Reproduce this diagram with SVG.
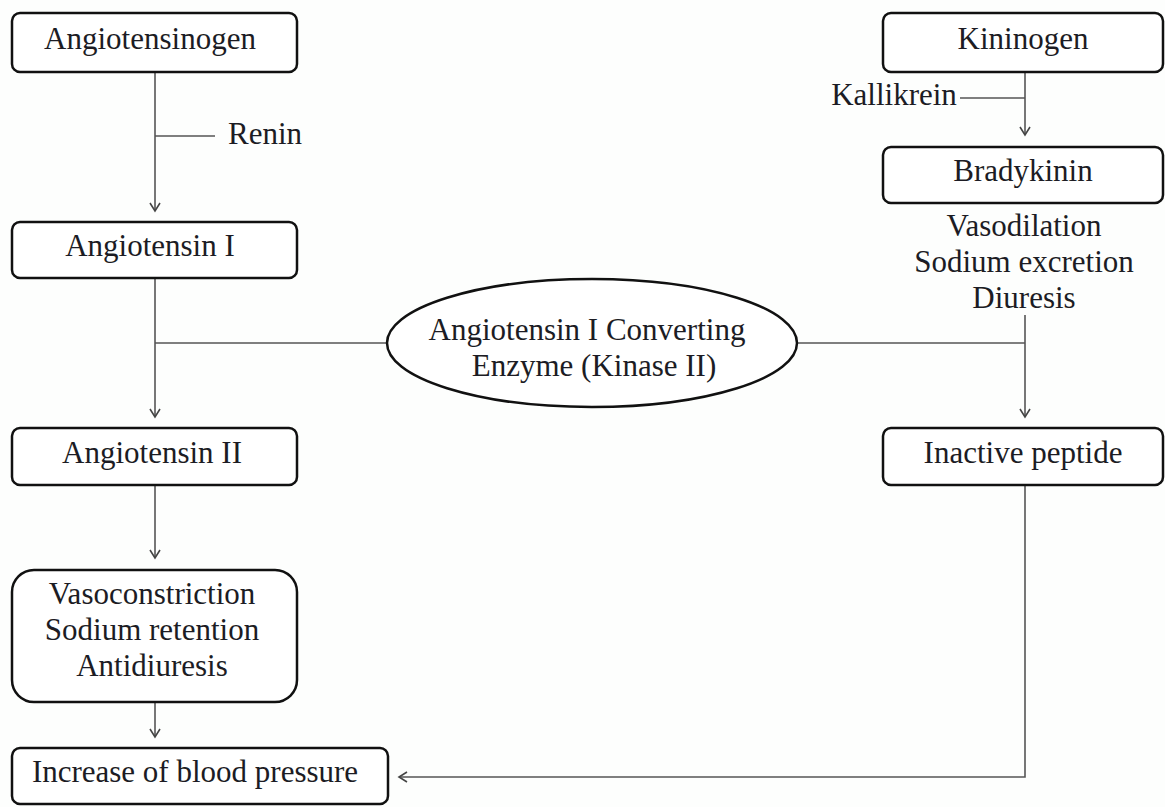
<svg xmlns="http://www.w3.org/2000/svg" width="1165" height="807" viewBox="0 0 1165 807">
<style>
.box{fill:#ffffff;stroke:#111;stroke-width:2.5}
.t{font-family:'Liberation Serif','Tinos','DejaVu Serif','Noto Serif',serif;font-size:31px;fill:#1c1c24;text-anchor:middle}
.c{fill:none;stroke:#555;stroke-width:1.6}
</style>
<defs>
<marker id="ah" viewBox="0 0 12 12" refX="10" refY="6" markerWidth="12" markerHeight="12" markerUnits="userSpaceOnUse" orient="auto">
<path d="M2,1 L10,6 L2,11" fill="none" stroke="#444" stroke-width="1.6"/>
</marker>
</defs>
<rect width="1165" height="807" fill="#fdfefd"/>
<g id="connectors">
<line class="c" x1="155" y1="72" x2="155" y2="211" marker-end="url(#ah)"/>
<line class="c" x1="155" y1="136" x2="215" y2="136"/>
<line class="c" x1="155" y1="278" x2="155" y2="417" marker-end="url(#ah)"/>
<line class="c" x1="155" y1="343" x2="387" y2="343"/>
<line class="c" x1="797" y1="343" x2="1025" y2="343"/>
<line class="c" x1="1025" y1="315" x2="1025" y2="417" marker-end="url(#ah)"/>
<line class="c" x1="1025" y1="72" x2="1025" y2="135" marker-end="url(#ah)"/>
<line class="c" x1="960" y1="98" x2="1025" y2="98"/>
<line class="c" x1="155" y1="485" x2="155" y2="558" marker-end="url(#ah)"/>
<line class="c" x1="155" y1="702" x2="155" y2="737" marker-end="url(#ah)"/>
<polyline class="c" points="1025,485 1025,777 399,777" marker-end="url(#ah)"/>
</g>
<g id="angiotensinogen">
<rect class="box" x="12" y="13" width="285" height="59" rx="8"/>
<text class="t" x="150" y="49" font-family="Liberation Serif, serif">Angiotensinogen</text>
</g>
<g id="renin">
<text class="t" x="228" y="144" style="text-anchor:start">Renin</text>
</g>
<g id="angiotensin1">
<rect class="box" x="12" y="222" width="285" height="56" rx="8"/>
<text class="t" x="150" y="256">Angiotensin I</text>
</g>
<g id="ace">
<ellipse cx="592" cy="343" rx="205" ry="64" fill="#ffffff" stroke="#111" stroke-width="2.5"/>
<text class="t" x="587" y="340">Angiotensin I Converting</text>
<text class="t" x="594" y="376">Enzyme (Kinase II)</text>
</g>
<g id="angiotensin2">
<rect class="box" x="12" y="428" width="285" height="57" rx="8"/>
<text class="t" x="152" y="463">Angiotensin II</text>
</g>
<g id="effects-left">
<rect class="box" x="12" y="570" width="285" height="132" rx="22"/>
<text class="t" x="152" y="604">Vasoconstriction</text>
<text class="t" x="152" y="640">Sodium retention</text>
<text class="t" x="152" y="676">Antidiuresis</text>
</g>
<g id="bp">
<rect class="box" x="12" y="748" width="376" height="56" rx="8"/>
<text class="t" x="195" y="782">Increase of blood pressure</text>
</g>
<g id="kininogen">
<rect class="box" x="883" y="13" width="280" height="59" rx="8"/>
<text class="t" x="1023" y="49">Kininogen</text>
</g>
<g id="kallikrein">
<text class="t" x="894" y="105">Kallikrein</text>
</g>
<g id="bradykinin">
<rect class="box" x="883" y="147" width="280" height="56" rx="8"/>
<text class="t" x="1023" y="181">Bradykinin</text>
</g>
<g id="effects-right">
<text class="t" x="1024" y="236">Vasodilation</text>
<text class="t" x="1024" y="272">Sodium excretion</text>
<text class="t" x="1024" y="308">Diuresis</text>
</g>
<g id="inactive">
<rect class="box" x="883" y="428" width="280" height="57" rx="8"/>
<text class="t" x="1023" y="463">Inactive peptide</text>
</g>
</svg>
